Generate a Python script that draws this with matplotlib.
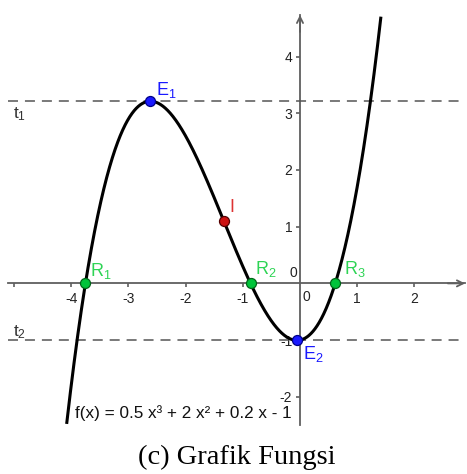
import numpy as np
import matplotlib
matplotlib.use("Agg")
import matplotlib.pyplot as plt

plt.rcParams["font.family"] = ["Liberation Sans", "DejaVu Sans"]
plt.rcParams["axes.unicode_minus"] = False
plt.rcParams["lines.scale_dashes"] = False

# f(x) = 0.5 x^3 + 2 x^2 + 0.2 x - 1
coeffs = [0.5, 2.0, 0.2, -1.0]
func_label = "f(x) = 0.5 x³ + 2 x² + 0.2 x - 1"
x_ticks = [-5, -4, -3, -2, -1, 1, 2]
y_ticks = [-2, -1, 1, 2, 3, 4]
caption = "(c) Grafik Fungsi"

poly = np.poly1d(coeffs)
d1 = poly.deriv()
d2 = d1.deriv()
roots = np.sort(np.real(poly.roots))
extrema_x = np.sort(np.real(d1.roots))   # [max, min]
ext_y = poly(extrema_x)
infl_x = np.real(d2.roots)[0]

axis_col = "#5f5f5f"
blue = "#1a1aff"
green = "#00c43a"
green_lbl = "#2ed455"
red = "#cc1111"

fig = plt.figure(figsize=(4.67, 4.74), dpi=100)
ax = fig.add_axes([0, 34 / 474, 1, 440 / 474])
ax.set_xlim(-5.245, 2.920)
ax.set_ylim(-2.762, 4.998)

x_lo, x_hi = -5.10, 2.885
y_lo, y_hi = -2.50, 4.735

for side in ("top", "right"):
    ax.spines[side].set_visible(False)
ax.spines["bottom"].set_position(("data", 0))
ax.spines["left"].set_position(("data", 0))
ax.spines["bottom"].set_bounds(x_lo, x_hi)
ax.spines["left"].set_bounds(y_lo, y_hi)
for side in ("bottom", "left"):
    ax.spines[side].set_color(axis_col)
    ax.spines[side].set_linewidth(1.3)
    ax.spines[side].set_zorder(1)

ax.set_xticks(x_ticks)
ax.set_yticks(y_ticks)
ax.set_xticklabels(["" if v == -5 else str(v) for v in x_ticks])
ax.tick_params(axis="both", direction="out", length=3, width=1.2,
               color=axis_col, labelsize=10, labelcolor="#222222")
ax.tick_params(axis="x", pad=3.5)
ax.tick_params(axis="y", pad=2.5)
ax.text(-0.05, 0.06, "0", fontsize=10, color="#222222", ha="right", va="bottom")
ax.text(0.12, -0.12, "0", fontsize=10, color="#222222", ha="center", va="top")

arrow = dict(arrowstyle="->", color=axis_col, lw=1.3, mutation_scale=11,
             shrinkA=0, shrinkB=0)
ax.annotate("", xy=(x_hi, 0), xytext=(x_hi - 0.3, 0), arrowprops=arrow)
ax.annotate("", xy=(0, y_hi), xytext=(0, y_hi - 0.3), arrowprops=arrow)

# horizontal tangents through the two extrema
for yv in ext_y:
    ax.plot([x_lo, x_hi], [yv, yv], color="#555555", lw=1.1,
            dashes=(7.2, 5.0), zorder=2)

ax.annotate(r"$\mathregular{t_1}$", xy=(x_lo + 0.075, ext_y[0]),
            xytext=(0, -4), textcoords="offset pixels", fontsize=12.5,
            color="#333333", ha="left", va="top")
ax.annotate(r"$\mathregular{t_2}$", xy=(x_lo + 0.075, ext_y[1]),
            xytext=(0, 4), textcoords="offset pixels", fontsize=12.5,
            color="#333333", ha="left", va="baseline")

# the cubic itself
xs = np.linspace(-4.3, 1.6, 1500)
ys = poly(xs)
keep = (ys >= y_lo) & (ys <= y_hi)
ax.plot(xs[keep], ys[keep], color="black", lw=2.2, zorder=4,
        solid_capstyle="butt")

ax.text(-3.93, -2.28, func_label, fontsize=12.3, color="#111111",
        ha="left", va="center")


def mark(x, y, face, edge, label, lcol, dx, dy):
    ax.plot([x], [y], "o", ms=7.2, mfc=face, mec=edge, mew=0.9, zorder=6)
    ax.annotate(label, xy=(x, y), xytext=(dx, dy), textcoords="offset pixels",
                fontsize=13, color=lcol, ha="left", va="baseline", zorder=7)


mark(extrema_x[0], ext_y[0], blue, "#00008a", r"$\mathregular{E_1}$", blue, 6, 6)
mark(extrema_x[1], ext_y[1], blue, "#00008a", r"$\mathregular{E_2}$", blue, 6, -19)
mark(infl_x, poly(infl_x), red, "#550000", "I", "#dd3333", 6, 9)
mark(roots[0], 0, green, "#006618", r"$\mathregular{R_1}$", green_lbl, 5, 7)
mark(roots[1], 0, green, "#006618", r"$\mathregular{R_2}$", green_lbl, 4, 9)
mark(roots[2], 0, green, "#006618", r"$\mathregular{R_3}$", green_lbl, 9, 9)

fig.text(237 / 467, 1 - 457 / 474, caption, fontsize=20.5,
         family="Liberation Serif", ha="center", va="center", color="black")

fig.savefig("out.png", dpi=100)
